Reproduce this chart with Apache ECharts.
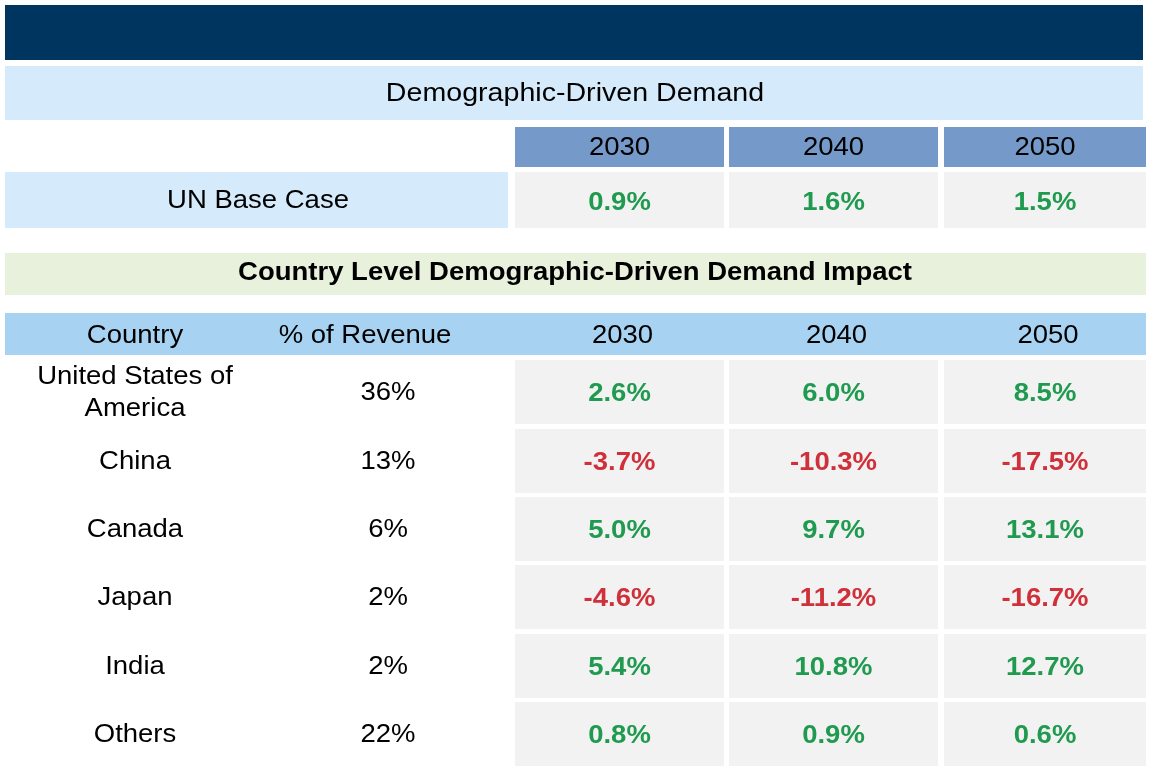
<!DOCTYPE html>
<html lang="en">
<head>
<meta charset="UTF-8">
<title>Demographic-Driven Demand</title>
<script src="https://cdn.jsdelivr.net/npm/echarts@6.0.0/dist/echarts.min.js"></script>
<style>html,body{margin:0;padding:0;background:#fff}</style>
</head>
<body>
<div id="chart" style="width:1151px;height:784px;"></div>
<script>
// data
var years = ['2030', '2040', '2050'];
var baseCase = ['0.9%', '1.6%', '1.5%'];
var countries = ['United States of\nAmerica', 'China', 'Canada', 'Japan', 'India', 'Others'];
var revenueShare = ['36%', '13%', '6%', '2%', '2%', '22%'];
var impact2030 = ['2.6%', '-3.7%', '5.0%', '-4.6%', '5.4%', '0.8%'];
var impact2040 = ['6.0%', '-10.3%', '9.7%', '-11.2%', '10.8%', '0.9%'];
var impact2050 = ['8.5%', '-17.5%', '13.1%', '-16.7%', '12.7%', '0.6%'];

var chart = echarts.init(document.getElementById('chart'));
var FONT = '"Liberation Sans", Arial, sans-serif';
var GREEN = '#1f9a4f', RED = '#cf3039';
var colX = [515, 729, 944], colW = [209, 209, 202];
var rowY = [360, 429, 497, 565, 634, 702], rowH = 64;

var els = [];
function rect(x, y, w, h, fill) {
    els.push({ type: 'rect', shape: { x: x, y: y, width: w, height: h }, style: { fill: fill } });
}
// reference text is slightly stretched horizontally
function text(x, y, s, size, color, bold) {
    els.push({ type: 'text', x: x, y: y, scaleX: 1.1, style: {
        text: s, fill: color || '#000', font: (bold ? 'bold ' : '') + size + 'px ' + FONT,
        align: 'center', verticalAlign: 'middle', lineHeight: size * 1.3 } });
}
function valColor(v) { return v.charAt(0) === '-' ? RED : GREEN; }

rect(5, 5, 1138, 55, '#00355f');
rect(5, 66, 1138, 54, '#d5ebfb');
text(575, 94, 'Demographic-Driven Demand', 26);

years.forEach(function (y, i) {
    rect(colX[i], 127, colW[i], 40, '#7599c9');
    text(colX[i] + colW[i] / 2, 148, y, 25);
});
rect(5, 172, 503, 56, '#d5ebfb');
text(258, 201, 'UN Base Case', 25);
baseCase.forEach(function (v, i) {
    rect(colX[i], 172, colW[i], 56, '#f2f2f2');
    text(colX[i] + colW[i] / 2, 203, v, 25, valColor(v), true);
});

rect(5, 253, 1141, 42, '#e8f1dc');
text(575, 273, 'Country Level Demographic-Driven Demand Impact', 25, '#000', true);

rect(5, 313, 1141, 42, '#a8d2f1');
text(135, 336, 'Country', 25);
text(365, 336, '% of Revenue', 25);
years.forEach(function (y, i) { text(colX[i] + colW[i] / 2 + 3, 336, y, 25); });

var cols = [impact2030, impact2040, impact2050];
countries.forEach(function (c, r) {
    var cy = rowY[r] + rowH / 2 + 1;
    text(135, cy, c, 25);
    text(388, cy, revenueShare[r], 25);
    cols.forEach(function (arr, i) {
        rect(colX[i], rowY[r], colW[i], rowH, '#f2f2f2');
        text(colX[i] + colW[i] / 2, cy + 1, arr[r], 25, valColor(arr[r]), true);
    });
});

chart.setOption({ animation: false, graphic: { elements: els } });
</script>
</body>
</html>
